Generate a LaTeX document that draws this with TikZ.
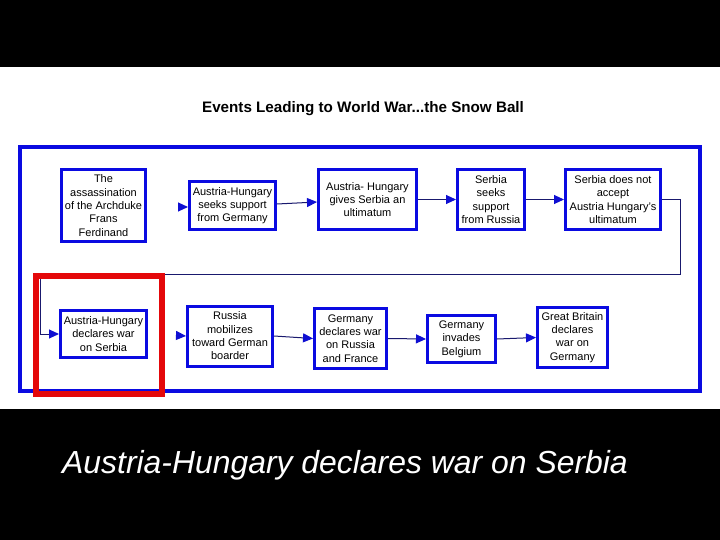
\documentclass[tikz,border=0pt]{standalone}
\usepackage{fontspec}
\setmainfont{Liberation Sans}
\usetikzlibrary{arrows.meta}
\definecolor{boxblue}{RGB}{10,10,225}
\definecolor{linenavy}{RGB}{25,25,110}
\definecolor{tipblue}{RGB}{15,15,210}
\definecolor{redmark}{RGB}{228,8,10}
\tikzset{
  evbox/.style={draw=boxblue, line width=3pt, fill=white, inner sep=0pt,
    align=center, font=\fontsize{11}{13.3}\selectfont, text=black},
  conn/.style={draw=linenavy, line width=1pt,
    -{Triangle[length=10pt,width=9pt,color=tipblue]}},
}
\begin{document}
\begin{tikzpicture}[x=1pt,y=-1pt]
\useasboundingbox (0,0) rectangle (720,540);
\fill[black] (0,0) rectangle (720,540);
\fill[white] (0,66.7) rectangle (720,409.3);
\node[font=\bfseries\fontsize{15.2}{18}\selectfont, anchor=base] (title) at (363,113) {Events Leading to World War...the Snow Ball};
\draw[boxblue, line width=4pt] (19.5,147.5) rectangle (700,390.5);
% row 1
\node[evbox, minimum width=84pt, minimum height=72pt] (a1) at (103.5,205.5) {The\\assassination\\of the Archduke\\Frans\\Ferdinand};
\node[evbox, minimum width=86pt, minimum height=48pt] (a2) at (232.5,205.5) {Austria-Hungary\\seeks support\\from Germany};
\node[evbox, minimum width=98pt, minimum height=60pt] (a3) at (367.5,199.5) {Austria- Hungary\\gives Serbia an\\ultimatum};
\node[evbox, minimum width=67pt, minimum height=60pt] (a4) at (491,199.5) {Serbia\\seeks\\support\\from Russia};
\node[evbox, minimum width=95pt, minimum height=60pt] (a5) at (613,199.5) {Serbia does not\\accept\\Austria Hungary's\\ultimatum};
% row 2
\node[evbox, minimum width=86pt, minimum height=47pt] (a6) at (103.5,334) {Austria-Hungary\\declares war\\on Serbia};
\node[evbox, minimum width=85pt, minimum height=60pt] (a7) at (230,336) {Russia\\mobilizes\\toward German\\boarder};
\node[evbox, minimum width=72pt, minimum height=60pt] (a8) at (350.5,338.5) {Germany\\declares war\\on Russia\\and France};
\node[evbox, minimum width=68pt, minimum height=47pt] (a9) at (461.5,339) {Germany\\invades\\Belgium};
\node[evbox, minimum width=70pt, minimum height=60pt] (a10) at (572.5,337.5) {Great Britain\\declares\\war on\\Germany};
% connectors
\draw[conn, shorten <=31pt] ([yshift=-1.5pt]a1.east) -- ([yshift=-1.5pt]a2.west);
\draw[conn] ([yshift=1.5pt]a2.east) -- ([yshift=-2.5pt]a3.west);
\draw[conn] (a3.east) -- (a4.west);
\draw[conn] (a4.east) -- (a5.west);
\coordinate (c1) at (680,199.5);
\coordinate (c2) at (680,274);
\coordinate (c3) at (40,274);
\coordinate (c4) at (40,334);
\draw[conn] (a5.east) -- (c1) -- (c2) -- (c3) -- (c4) -- (a6.west);
\draw[conn, shorten <=28pt] (a6.east) -- (a7.west);
\draw[conn] (a7.east) -- (a8.west);
\draw[conn] (a8.east) -- (a9.west);
\draw[conn] (a9.east) -- (a10.west);
% highlight
\draw[redmark, line width=6pt] (36,275.5) rectangle (161.5,394);
% caption
\node[text=white, font=\itshape\fontsize{31.9}{36}\selectfont, anchor=base west, inner sep=0pt] (cap) at (62,473) {Austria-Hungary declares war on Serbia};
\end{tikzpicture}
\end{document}
